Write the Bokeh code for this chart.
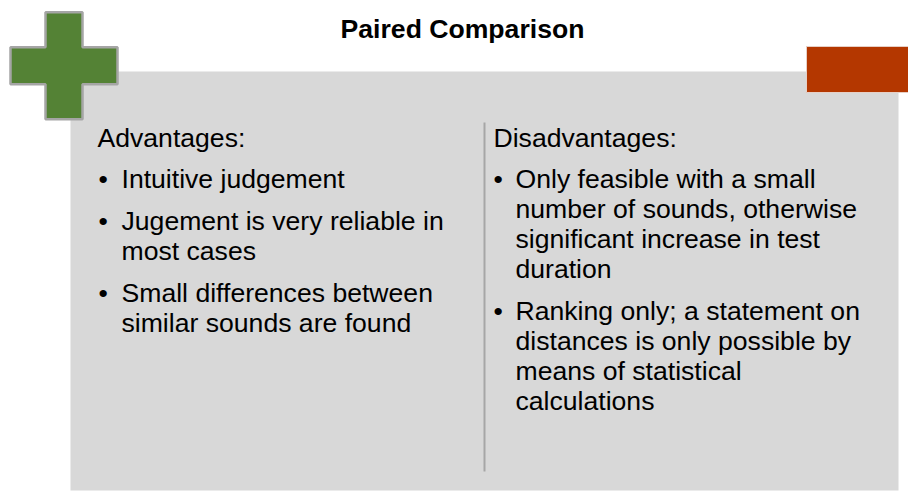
from bokeh.plotting import figure
from bokeh.models import Range1d
from bokeh.core.properties import value
from bokeh.embed import file_html
from bokeh.resources import INLINE

# ---- content ----
title = "Paired Comparison"
adv_header = "Advantages:"
adv_items = [
    ["Intuitive judgement"],
    ["Jugement is very reliable in", "most cases"],
    ["Small differences between", "similar sounds are found"],
]
dis_header = "Disadvantages:"
dis_items = [
    ["Only feasible with a small", "number of sounds, otherwise",
     "significant increase in test", "duration"],
    ["Ranking only; a statement on", "distances is only possible by",
     "means of statistical", "calculations"],
]

FONT = value("Liberation Sans")
SIZE = "26.6px"
DY = -9  # baseline correction

W, H = 908, 491
p = figure(width=W, height=H, x_range=Range1d(0, W), y_range=Range1d(H, 0),
           output_backend="svg", toolbar_location=None, min_border=0,
           x_axis_type=None, y_axis_type=None)
p.grid.visible = False
p.outline_line_color = None
p.background_fill_color = "white"
p.border_fill_color = "white"

# gray panel
p.quad(left=70, right=898, top=71, bottom=490, fill_color="#D8D8D8", line_color=None)

# red tab
p.quad(left=806, right=920, top=46, bottom=92, fill_color="#B43700",
       line_color="#E6CFC6", line_width=1)

# green plus
cx, cy = 63.5, 65.3
arm, half = 53.5, 18.5
pxs = [cx - half, cx + half, cx + half, cx + arm, cx + arm, cx + half, cx + half,
       cx - half, cx - half, cx - arm, cx - arm, cx - half]
pys = [cy - arm, cy - arm, cy - half, cy - half, cy + half, cy + half, cy + arm,
       cy + arm, cy + half, cy + half, cy - half, cy - half]
p.patch(pxs, pys, fill_color="#548235", line_color="#A5A5A5", line_width=2.5)

# divider
p.segment(x0=[484], y0=[122], x1=[484], y1=[471], line_color="#A6A6A6", line_width=2)

# title
p.text(x=[462], y=[37 + DY], text=[title], text_font=FONT, text_font_size=SIZE,
       text_font_style="bold", text_align="center", text_baseline="alphabetic",
       text_color="black")

HEADER_Y = 146 + DY
FIRST_GAP = 41
LINE = 30
PARA = 42

def column(header, items, x_head, x_bullet, x_text):
    p.text(x=[x_head], y=[HEADER_Y], text=[header], text_font=FONT, text_font_size=SIZE,
           text_baseline="alphabetic", text_color="black")
    y = HEADER_Y + FIRST_GAP
    bx, by, tx, ty, tt = [], [], [], [], []
    for item in items:
        bx.append(x_bullet); by.append(y)
        for i, line in enumerate(item):
            tx.append(x_text); ty.append(y + i * LINE); tt.append(line)
        y += (len(item) - 1) * LINE + PARA
    p.text(x=bx, y=by, text=["\u2022"] * len(bx), text_font=FONT, text_font_size=SIZE,
           text_baseline="alphabetic", text_color="black")
    p.text(x=tx, y=ty, text=tt, text_font=FONT, text_font_size=SIZE,
           text_baseline="alphabetic", text_color="black")

column(adv_header, adv_items, 97, 98, 121)
column(dis_header, dis_items, 493, 493, 515)

open("out.html", "w").write(file_html(p, INLINE))
